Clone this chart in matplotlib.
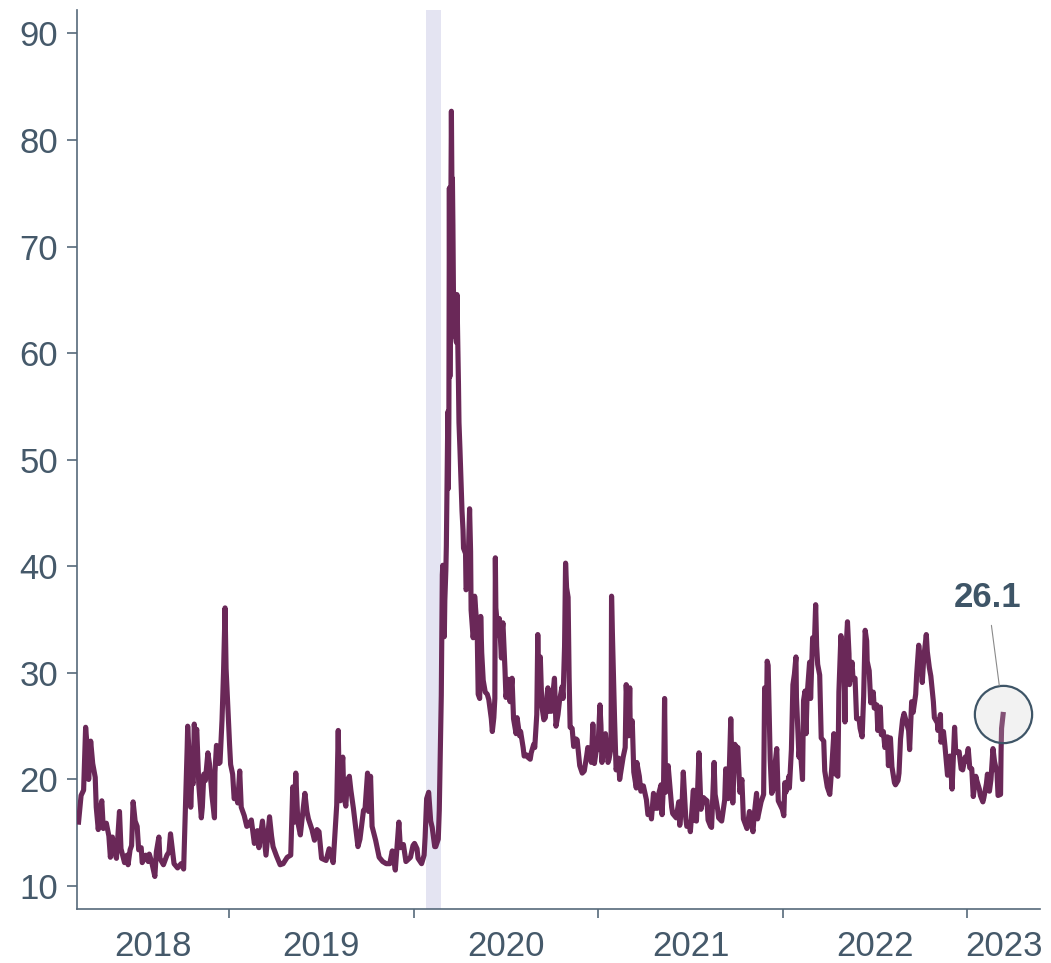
import matplotlib
matplotlib.use("Agg")
import matplotlib.pyplot as plt
import matplotlib.dates as mdates
import pandas as pd
import numpy as np

# ---------------- data ----------------
dates_2018 = ["2018-03-09", "2018-03-14", "2018-03-19", "2018-03-22", "2018-03-23", "2018-03-27",
              "2018-03-29", "2018-04-02", "2018-04-06", "2018-04-11", "2018-04-13", "2018-04-17",
              "2018-04-20", "2018-04-24", "2018-04-27", "2018-05-03", "2018-05-08", "2018-05-11",
              "2018-05-15", "2018-05-18", "2018-05-23", "2018-05-29", "2018-06-01", "2018-06-08",
              "2018-06-13", "2018-06-15", "2018-06-19", "2018-06-22", "2018-06-25", "2018-06-29",
              "2018-07-03", "2018-07-06", "2018-07-11", "2018-07-13", "2018-07-20", "2018-07-25",
              "2018-07-27", "2018-08-01", "2018-08-07", "2018-08-10", "2018-08-15", "2018-08-17",
              "2018-08-24", "2018-08-31", "2018-09-04", "2018-09-07", "2018-09-14", "2018-09-21",
              "2018-09-28", "2018-10-03", "2018-10-05", "2018-10-10", "2018-10-11", "2018-10-15",
              "2018-10-17", "2018-10-19", "2018-10-22", "2018-10-24", "2018-10-26", "2018-10-29",
              "2018-11-02", "2018-11-07", "2018-11-09", "2018-11-12", "2018-11-15", "2018-11-20",
              "2018-11-23", "2018-11-28", "2018-12-03", "2018-12-04", "2018-12-07", "2018-12-12",
              "2018-12-14", "2018-12-18", "2018-12-21", "2018-12-24", "2018-12-26", "2018-12-28"]
vix_2018 = [16.0, 18.5, 19.0, 23.3, 24.9, 22.5,
            20.0, 23.6, 21.5, 20.2, 17.4, 15.3,
            16.9, 18.0, 15.4, 15.9, 14.7, 12.7,
            14.6, 13.4, 12.6, 17.0, 13.5, 12.2,
            12.9, 12.0, 13.4, 13.8, 17.9, 16.1,
            15.6, 13.4, 13.6, 12.2, 12.9, 12.3,
            13.0, 12.2, 10.9, 13.2, 14.6, 12.6,
            12.0, 12.9, 13.2, 14.9, 12.1, 11.7,
            12.1, 11.6, 14.8, 23.0, 25.0, 21.3,
            17.4, 19.9, 19.6, 25.2, 24.2, 24.7,
            19.5, 16.4, 17.4, 20.5, 19.9, 22.5,
            21.5, 18.5, 16.4, 20.7, 23.2, 21.5,
            21.6, 25.6, 30.1, 36.1, 30.4, 28.3]

dates_2019 = ["2019-01-02", "2019-01-04", "2019-01-08", "2019-01-11", "2019-01-15", "2019-01-18",
              "2019-01-22", "2019-01-25", "2019-01-31", "2019-02-05", "2019-02-08", "2019-02-14",
              "2019-02-20", "2019-02-26", "2019-03-01", "2019-03-08", "2019-03-12", "2019-03-15",
              "2019-03-22", "2019-03-26", "2019-03-29", "2019-04-05", "2019-04-12", "2019-04-18",
              "2019-04-26", "2019-05-03", "2019-05-07", "2019-05-10", "2019-05-13", "2019-05-17",
              "2019-05-22", "2019-05-29", "2019-05-31", "2019-06-04", "2019-06-07", "2019-06-14",
              "2019-06-19", "2019-06-24", "2019-06-28", "2019-07-03", "2019-07-12", "2019-07-18",
              "2019-07-26", "2019-07-31", "2019-08-02", "2019-08-05", "2019-08-07", "2019-08-09",
              "2019-08-12", "2019-08-14", "2019-08-16", "2019-08-20", "2019-08-23", "2019-08-27",
              "2019-08-30", "2019-09-04", "2019-09-09", "2019-09-13", "2019-09-17", "2019-09-24",
              "2019-09-27", "2019-10-02", "2019-10-04", "2019-10-08", "2019-10-11", "2019-10-18",
              "2019-10-25", "2019-11-01", "2019-11-08", "2019-11-15", "2019-11-20", "2019-11-26",
              "2019-12-03", "2019-12-06", "2019-12-12", "2019-12-17", "2019-12-26", "2019-12-31"]
vix_2019 = [23.2, 21.4, 20.5, 18.2, 18.6, 17.8,
            20.8, 17.4, 16.6, 15.6, 15.7, 16.2,
            14.0, 15.2, 13.6, 16.1, 14.3, 12.9,
            16.5, 14.7, 13.7, 12.8, 12.0, 12.1,
            12.7, 12.9, 19.3, 16.0, 20.6, 16.0,
            14.8, 17.9, 18.7, 17.0, 16.3, 15.3,
            14.3, 15.3, 15.1, 12.6, 12.4, 13.5,
            12.2, 16.1, 17.6, 24.6, 19.5, 18.0,
            21.1, 22.1, 18.5, 17.5, 19.9, 20.3,
            19.0, 17.3, 15.3, 13.7, 14.4, 17.1,
            17.2, 20.6, 17.0, 20.3, 15.6, 14.3,
            12.7, 12.3, 12.1, 12.1, 13.3, 11.5,
            16.0, 13.6, 13.9, 12.3, 12.7, 13.8]

dates_2020 = ["2020-01-03", "2020-01-08", "2020-01-10", "2020-01-17", "2020-01-22", "2020-01-24",
              "2020-01-27", "2020-01-31", "2020-02-04", "2020-02-07", "2020-02-12", "2020-02-14",
              "2020-02-19", "2020-02-21", "2020-02-24", "2020-02-25", "2020-02-27", "2020-02-28",
              "2020-03-02", "2020-03-03", "2020-03-05", "2020-03-06", "2020-03-09", "2020-03-10",
              "2020-03-11", "2020-03-12", "2020-03-13", "2020-03-16", "2020-03-17", "2020-03-18",
              "2020-03-19", "2020-03-20", "2020-03-23", "2020-03-24", "2020-03-26", "2020-03-27",
              "2020-03-30", "2020-03-31", "2020-04-02", "2020-04-06", "2020-04-08", "2020-04-09",
              "2020-04-13", "2020-04-14", "2020-04-17", "2020-04-21", "2020-04-23", "2020-04-24",
              "2020-04-28", "2020-04-30", "2020-05-01", "2020-05-06", "2020-05-08", "2020-05-11",
              "2020-05-13", "2020-05-15", "2020-05-18", "2020-05-22", "2020-05-26", "2020-05-29",
              "2020-06-03", "2020-06-05", "2020-06-08", "2020-06-10", "2020-06-11", "2020-06-12",
              "2020-06-15", "2020-06-17", "2020-06-19", "2020-06-23", "2020-06-24", "2020-06-26",
              "2020-06-30", "2020-07-02", "2020-07-07", "2020-07-10", "2020-07-14", "2020-07-17",
              "2020-07-22", "2020-07-24", "2020-07-29", "2020-07-31", "2020-08-05", "2020-08-07",
              "2020-08-12", "2020-08-14", "2020-08-19", "2020-08-21", "2020-08-26", "2020-08-28",
              "2020-09-01", "2020-09-03", "2020-09-04", "2020-09-08", "2020-09-11", "2020-09-15",
              "2020-09-18", "2020-09-21", "2020-09-23", "2020-09-25", "2020-09-30", "2020-10-02",
              "2020-10-06", "2020-10-09", "2020-10-13", "2020-10-16", "2020-10-21", "2020-10-23",
              "2020-10-26", "2020-10-28", "2020-10-30", "2020-11-02", "2020-11-04", "2020-11-06",
              "2020-11-10", "2020-11-13", "2020-11-18", "2020-11-20", "2020-11-25", "2020-11-30",
              "2020-12-04", "2020-12-09", "2020-12-11", "2020-12-16", "2020-12-18", "2020-12-21",
              "2020-12-24", "2020-12-29", "2020-12-31"]
vix_2020 = [14.0, 13.5, 12.6, 12.1, 12.9, 14.6,
            18.2, 18.8, 16.1, 15.5, 13.7, 13.7,
            14.4, 17.1, 25.0, 27.9, 39.2, 40.1,
            33.4, 36.8, 39.6, 41.9, 54.5, 47.3,
            53.9, 75.5, 57.8, 82.7, 75.9, 76.4,
            72.0, 66.0, 61.6, 61.7, 61.0, 65.5,
            57.1, 53.5, 50.9, 45.2, 43.4, 41.7,
            41.2, 37.8, 38.2, 45.4, 41.4, 35.9,
            33.3, 34.2, 37.2, 34.1, 28.0, 27.6,
            35.3, 31.9, 29.3, 28.2, 28.0, 27.5,
            25.7, 24.5, 25.8, 27.6, 40.8, 36.1,
            34.4, 33.5, 35.1, 31.4, 33.8, 34.7,
            30.4, 27.7, 29.4, 27.3, 29.5, 25.7,
            24.3, 25.8, 24.1, 24.5, 23.0, 22.2,
            22.3, 22.1, 21.9, 22.5, 23.3, 23.0,
            26.1, 33.6, 30.8, 31.5, 26.9, 25.6,
            25.8, 27.8, 28.6, 26.4, 26.4, 27.6,
            29.5, 25.0, 26.1, 27.4, 28.7, 27.6,
            32.5, 40.3, 38.0, 37.1, 29.6, 24.9,
            24.8, 23.1, 23.8, 23.7, 21.3, 20.6,
            20.8, 22.3, 23.0, 22.5, 21.6, 25.2,
            21.5, 23.1, 22.8]

dates_2021 = ["2021-01-04", "2021-01-06", "2021-01-08", "2021-01-12", "2021-01-15", "2021-01-20",
              "2021-01-22", "2021-01-26", "2021-01-27", "2021-01-29", "2021-02-02", "2021-02-05",
              "2021-02-10", "2021-02-12", "2021-02-17", "2021-02-19", "2021-02-23", "2021-02-25",
              "2021-02-26", "2021-03-02", "2021-03-04", "2021-03-05", "2021-03-09", "2021-03-12",
              "2021-03-17", "2021-03-18", "2021-03-23", "2021-03-26", "2021-03-31", "2021-04-06",
              "2021-04-09", "2021-04-14", "2021-04-16", "2021-04-20", "2021-04-23", "2021-04-28",
              "2021-04-30", "2021-05-05", "2021-05-07", "2021-05-10", "2021-05-12", "2021-05-14",
              "2021-05-19", "2021-05-21", "2021-05-26", "2021-05-28", "2021-06-04", "2021-06-09",
              "2021-06-11", "2021-06-16", "2021-06-18", "2021-06-23", "2021-06-25", "2021-06-30",
              "2021-07-02", "2021-07-08", "2021-07-09", "2021-07-14", "2021-07-16", "2021-07-19",
              "2021-07-23", "2021-07-28", "2021-07-30", "2021-08-04", "2021-08-06", "2021-08-11",
              "2021-08-13", "2021-08-18", "2021-08-20", "2021-08-25", "2021-08-27", "2021-09-02",
              "2021-09-08", "2021-09-10", "2021-09-15", "2021-09-17", "2021-09-20", "2021-09-24",
              "2021-09-28", "2021-09-30", "2021-10-04", "2021-10-08", "2021-10-12", "2021-10-15",
              "2021-10-22", "2021-10-27", "2021-10-29", "2021-11-03", "2021-11-05", "2021-11-10",
              "2021-11-12", "2021-11-19", "2021-11-24", "2021-11-26", "2021-11-30", "2021-12-01",
              "2021-12-03", "2021-12-07", "2021-12-10", "2021-12-15", "2021-12-17", "2021-12-20",
              "2021-12-23", "2021-12-31"]
vix_2021 = [27.0, 25.1, 21.6, 24.1, 24.3, 21.6,
            21.9, 23.0, 37.2, 33.1, 25.6, 20.9,
            22.0, 20.0, 21.5, 22.1, 23.0, 28.9,
            28.0, 24.1, 28.6, 24.7, 25.5, 20.7,
            19.2, 21.6, 20.3, 18.9, 19.4, 18.1,
            16.7, 17.0, 16.3, 18.7, 17.3, 17.3,
            18.6, 19.5, 16.7, 19.7, 27.6, 18.8,
            21.3, 20.2, 17.4, 16.8, 16.4, 17.9,
            15.7, 18.2, 20.7, 16.3, 15.6, 15.8,
            15.1, 19.0, 16.2, 16.1, 18.5, 22.5,
            17.2, 18.3, 18.2, 18.0, 16.2, 15.6,
            15.5, 21.6, 18.6, 17.2, 16.4, 16.1,
            18.1, 21.0, 18.2, 20.8, 25.7, 17.8,
            23.3, 23.1, 23.0, 18.8, 20.0, 16.3,
            15.4, 17.0, 16.3, 15.1, 16.5, 18.7,
            16.3, 17.9, 18.6, 28.6, 27.2, 31.1,
            30.7, 21.9, 18.7, 19.3, 21.6, 22.9,
            18.0, 17.2]

dates_2022 = ["2022-01-03", "2022-01-05", "2022-01-07", "2022-01-10", "2022-01-13", "2022-01-14",
              "2022-01-18", "2022-01-21", "2022-01-24", "2022-01-27", "2022-01-28", "2022-02-02",
              "2022-02-04", "2022-02-09", "2022-02-11", "2022-02-14", "2022-02-16", "2022-02-18",
              "2022-02-23", "2022-02-24", "2022-02-25", "2022-03-01", "2022-03-04", "2022-03-07",
              "2022-03-09", "2022-03-11", "2022-03-15", "2022-03-18", "2022-03-23", "2022-03-25",
              "2022-03-30", "2022-04-04", "2022-04-08", "2022-04-12", "2022-04-14", "2022-04-20",
              "2022-04-22", "2022-04-26", "2022-04-28", "2022-05-02", "2022-05-04", "2022-05-05",
              "2022-05-09", "2022-05-12", "2022-05-13", "2022-05-18", "2022-05-20", "2022-05-24",
              "2022-05-27", "2022-06-01", "2022-06-03", "2022-06-07", "2022-06-10", "2022-06-13",
              "2022-06-16", "2022-06-17", "2022-06-21", "2022-06-24", "2022-06-29", "2022-07-01",
              "2022-07-06", "2022-07-08", "2022-07-13", "2022-07-15", "2022-07-19", "2022-07-22",
              "2022-07-27", "2022-07-29", "2022-08-02", "2022-08-05", "2022-08-10", "2022-08-12",
              "2022-08-17", "2022-08-19", "2022-08-22", "2022-08-26", "2022-08-29", "2022-09-02",
              "2022-09-07", "2022-09-09", "2022-09-13", "2022-09-16", "2022-09-21", "2022-09-23",
              "2022-09-27", "2022-09-29", "2022-09-30", "2022-10-04", "2022-10-07", "2022-10-12",
              "2022-10-14", "2022-10-18", "2022-10-21", "2022-10-26", "2022-10-28", "2022-11-03",
              "2022-11-04", "2022-11-09", "2022-11-10", "2022-11-15", "2022-11-18", "2022-11-23",
              "2022-11-28", "2022-11-30", "2022-12-02", "2022-12-07", "2022-12-09", "2022-12-13",
              "2022-12-16", "2022-12-20", "2022-12-23", "2022-12-28", "2022-12-30"]
vix_2022 = [16.6, 19.7, 18.8, 19.4, 20.3, 19.2,
            22.8, 28.9, 29.9, 31.5, 27.7, 22.1,
            23.2, 20.0, 27.4, 28.3, 24.3, 27.8,
            31.0, 30.3, 27.6, 33.3, 32.0, 36.4,
            32.5, 30.8, 29.8, 23.9, 23.6, 20.8,
            19.3, 18.6, 21.2, 24.3, 20.6, 20.3,
            28.2, 33.5, 30.0, 32.3, 25.4, 31.2,
            34.8, 31.8, 28.9, 31.0, 29.4, 29.5,
            25.7, 25.7, 24.8, 24.0, 27.8, 34.0,
            33.0, 31.1, 30.2, 27.2, 28.2, 26.7,
            27.0, 24.6, 26.8, 24.2, 24.5, 23.0,
            24.0, 21.3, 23.9, 21.2, 19.7, 19.5,
            19.9, 20.6, 23.8, 25.6, 26.2, 25.5,
            24.6, 22.8, 27.3, 26.3, 28.0, 29.9,
            32.6, 31.8, 31.6, 29.1, 31.4, 33.6,
            32.0, 30.5, 29.7, 27.3, 25.8, 25.3,
            24.6, 26.1, 23.5, 24.5, 23.1, 20.4,
            22.2, 20.6, 19.1, 24.9, 22.8, 22.5,
            22.6, 21.0, 20.9, 22.1, 21.7]

dates_2023 = ["2023-01-03", "2023-01-06", "2023-01-10", "2023-01-13", "2023-01-18", "2023-01-20",
              "2023-01-25", "2023-01-27", "2023-02-01", "2023-02-03", "2023-02-08", "2023-02-10",
              "2023-02-14", "2023-02-17", "2023-02-21", "2023-02-24", "2023-03-01", "2023-03-03",
              "2023-03-08", "2023-03-09", "2023-03-10", "2023-03-13"]
vix_2023 = [22.9, 21.1, 21.0, 18.4, 20.3, 19.9,
            19.1, 18.5, 17.9, 18.3, 19.6, 20.5,
            18.9, 20.0, 22.9, 21.7, 20.6, 18.5,
            18.6, 22.6, 24.8, 26.1]

recession_span = ["2020-01-25", "2020-02-24"]
x_range = ["2018-03-06", "2023-05-25"]
y_ticks = [10, 20, 30, 40, 50, 60, 70, 80, 90]
year_boundaries = ["2019-01-01", "2020-01-01", "2021-01-01", "2022-01-01", "2023-01-01"]
year_labels = ["2018", "2019", "2020", "2021", "2022", "2023"]
last_label = "26.1"

# ---------------- styling ----------------
LINE = "#6A2858"
BAND = "#E4E4F2"
SPINE = "#56697A"
TEXT = "#45596A"
ANNOT = "#3E5567"

plt.rcParams["font.family"] = ["Liberation Sans", "DejaVu Sans"]

dates = pd.to_datetime(dates_2018 + dates_2019 + dates_2020 + dates_2021 + dates_2022 + dates_2023)
vix = np.array(vix_2018 + vix_2019 + vix_2020 + vix_2021 + vix_2022 + vix_2023)

fig = plt.figure(figsize=(10.51, 9.63), dpi=100)
ax = fig.add_axes([0.0733, 0.0561, 0.9162, 0.9335])

ax.axvspan(pd.Timestamp(recession_span[0]), pd.Timestamp(recession_span[1]),
           color=BAND, lw=0, zorder=1)
ax.plot(dates, vix, color=LINE, lw=3.7, zorder=3)

# highlight last value
ax.scatter([dates[-1]], [vix[-1]], s=1700, facecolors=[(0.81, 0.81, 0.81, 0.25)],
           edgecolors=ANNOT, linewidths=1.6, zorder=4)
ax.annotate(last_label, xy=(dates[-1], vix[-1]), xytext=(-11, 84), textcoords="offset points",
            ha="center", va="center", fontsize=25, fontweight="bold", color=ANNOT,
            arrowprops=dict(arrowstyle="-", color="#8A8A8A", lw=0.8, shrinkA=6, shrinkB=21),
            zorder=5)

x0, x1 = pd.Timestamp(x_range[0]), pd.Timestamp(x_range[1])
ax.set_xlim(x0, x1)
ax.set_ylim(7.85, 92.2)

ax.set_yticks(y_ticks)
ax.set_yticklabels([str(v) for v in y_ticks])

bounds = [mdates.date2num(pd.Timestamp(d)) for d in year_boundaries]
edges = [mdates.date2num(x0)] + bounds + [mdates.date2num(x1)]
centers = [(edges[i] + edges[i + 1]) / 2 for i in range(len(edges) - 1)]
ax.set_xticks(bounds)
ax.set_xticklabels([""] * len(bounds))
ax.set_xticks(centers, minor=True)
ax.set_xticklabels(year_labels, minor=True)

ax.tick_params(axis="y", length=7.2, width=1.2, color=SPINE, labelsize=25,
               labelcolor=TEXT, pad=6.5)
ax.tick_params(axis="x", which="major", length=6.5, width=1.2, color=SPINE)
ax.tick_params(axis="x", which="minor", length=0, labelsize=25, labelcolor=TEXT, pad=15)

for side in ["top", "right"]:
    ax.spines[side].set_visible(False)
for side in ["left", "bottom"]:
    ax.spines[side].set_color(SPINE)
    ax.spines[side].set_linewidth(1.2)

fig.savefig("out.png", dpi=100)
